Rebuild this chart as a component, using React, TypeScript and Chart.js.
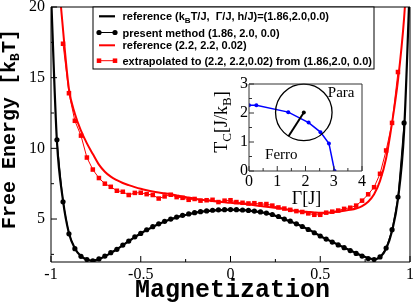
import React, { useEffect, useRef } from 'react';
import { Chart, registerables } from 'chart.js';

Chart.register(...registerables);

const W = 415;
const H = 303;

// ---------- main plot data ----------
const M_GRID = [
  -1, -0.967, -0.933, -0.9, -0.867, -0.833, -0.8, -0.767, -0.733, -0.7,
  -0.667, -0.633, -0.6, -0.567, -0.533, -0.5, -0.467, -0.433, -0.4, -0.367,
  -0.333, -0.3, -0.267, -0.233, -0.2, -0.167, -0.133, -0.1, -0.067, -0.033,
  0, 0.033, 0.067, 0.1, 0.133, 0.167, 0.2, 0.233, 0.267, 0.3,
  0.333, 0.367, 0.4, 0.433, 0.467, 0.5, 0.533, 0.567, 0.6, 0.633,
  0.667, 0.7, 0.733, 0.767, 0.8, 0.833, 0.867, 0.9, 0.933, 0.967, 1,
];

const REF_BLACK = [
  21, 10.5, 6.3, 4.0, 2.92, 2.38, 2.14, 2.05, 2.16, 2.36,
  2.6, 2.86, 3.14, 3.43, 3.72, 3.98, 4.22, 4.44, 4.64, 4.82,
  4.98, 5.12, 5.24, 5.34, 5.43, 5.5, 5.56, 5.6, 5.63, 5.65,
  5.66, 5.65, 5.63, 5.6, 5.55, 5.49, 5.41, 5.31, 5.15, 4.98,
  4.83, 4.66, 4.47, 4.27, 4.04, 3.8, 3.58, 3.38, 3.18, 2.98,
  2.78, 2.58, 2.4, 2.24, 2.15, 2.3, 2.9, 4.15, 6.4, 11.2, 22,
];

// present method, on M_GRID[1..59]
const PRESENT = [
  10.6, 6.22, 3.95, 2.9, 2.36, 2.13, 2.04, 2.18, 2.38,
  2.62, 2.86, 3.16, 3.44, 3.74, 3.98, 4.24, 4.46, 4.66, 4.84,
  5.0, 5.14, 5.26, 5.36, 5.45, 5.52, 5.57, 5.62, 5.65, 5.66,
  5.67, 5.66, 5.64, 5.61, 5.56, 5.5, 5.42, 5.32, 5.18, 5.0,
  4.85, 4.66, 4.47, 4.26, 4.03, 3.8, 3.58, 3.37, 3.17, 2.97,
  2.77, 2.57, 2.38, 2.2, 2.13, 2.32, 2.95, 4.25, 6.55, 11.8,
];

const REF_RED = [
  34, 24, 18.4, 14.2, 12.45, 11.25, 10.35, 9.6, 8.85, 8.35,
  8.0, 7.75, 7.55, 7.4, 7.26, 7.14, 7.04, 6.95, 6.88, 6.82,
  6.75, 6.67, 6.59, 6.52, 6.45, 6.38, 6.32, 6.27, 6.22, 6.18,
  6.15, 6.12, 6.08, 6.03, 5.97, 5.92, 5.87, 5.82, 5.76, 5.7,
  5.64, 5.58, 5.53, 5.5, 5.47, 5.45, 5.45, 5.47, 5.52, 5.58,
  5.65, 5.75, 5.92, 6.22, 6.75, 7.7, 9.3, 11.8, 14.8, 19.2, 26,
];

// extrapolated, on M_GRID[2..58]
const EXTRAP = [
  17.4, 13.9, 11.95, 10.9, 9.35, 8.5, 7.9, 7.5,
  7.28, 7.0, 6.93, 6.7, 6.85, 6.86, 6.76, 6.7, 6.45, 6.6,
  6.72, 6.55, 6.5, 6.36, 6.42, 6.3, 6.33, 6.36, 6.2, 6.3,
  6.33, 6.2, 6.15, 6.1, 6.12, 6.05, 6.06, 5.95, 5.82, 5.74,
  5.65, 5.56, 5.5, 5.4, 5.3, 5.3, 5.45, 5.52, 5.6, 5.72,
  5.8, 5.95, 6.3, 6.75, 7.25, 8.2, 9.85, 11.8, 15.4,
];

const X_TICKS = [-1, -0.5, 0, 0.5, 1];
const X_MINOR = [-0.75, -0.25, 0.25, 0.75];
const Y_TICKS = [5, 10, 15, 20];
const Y_MINOR = [2.5, 7.5, 12.5, 17.5];
const X_RANGE = [-1, 1];
const Y_RANGE = [1.96, 20];

const SERIES_LABELS = [
  'reference (kBT/J,  Γ/J, h/J)=(1.86,2.0,0.0)',
  'present method (1.86, 2.0, 0.0)',
  'reference (2.2, 2.2, 0.02)',
  'extrapolated to (2.2, 2.2,0.02) from (1.86,2.0, 0.0)',
];

// ---------- inset data ----------
const INSET_GAMMA = [0, 0.26, 1.39, 2.11, 2.53, 2.83, 3.03];
const INSET_TC = [2.269, 2.265, 2.03, 1.67, 1.34, 0.95, 0];
const INSET_X_TICKS = [0, 1, 2, 3, 4];
const INSET_X_MINOR = [0.5, 1.5, 2.5, 3.5];
const INSET_Y_TICKS = [0, 1, 2, 3];
const INSET_Y_MINOR = [0.5, 1.5, 2.5];
const CIRCLE_CENTER = { x: 1.94, y: 2.02 };
const CIRCLE_RADIUS = 1.0;
const RADIUS_END = { x: 1.4, y: 1.2 };
const PARA_POS = { x: 2.79, y: 2.55 };
const FERRO_POS = { x: 0.57, y: 0.41 };

type Part = { t: string; sub?: boolean };

function richWidth(ctx: CanvasRenderingContext2D, parts: Part[], font: string, subFont: string) {
  let w = 0;
  for (const p of parts) {
    ctx.font = p.sub ? subFont : font;
    w += ctx.measureText(p.t).width;
  }
  return w;
}

function drawRich(
  ctx: CanvasRenderingContext2D,
  parts: Part[],
  x: number,
  y: number,
  font: string,
  subFont: string,
  subDy: number
) {
  let cx = x;
  ctx.textBaseline = 'alphabetic';
  ctx.textAlign = 'left';
  for (const p of parts) {
    ctx.font = p.sub ? subFont : font;
    ctx.fillText(p.t, cx, p.sub ? y + subDy : y);
    cx += ctx.measureText(p.t).width;
  }
}

function drawFrame(
  chart: any,
  xMajor: number[],
  xMinor: number[],
  yMajor: number[],
  yMinor: number[],
  majorLen: number,
  minorLen: number,
  color: string
) {
  const ctx: CanvasRenderingContext2D = chart.ctx;
  const a = chart.chartArea;
  const xs = chart.scales.x;
  const ys = chart.scales.y;
  ctx.save();
  ctx.strokeStyle = color;
  ctx.lineWidth = 1;
  ctx.beginPath();
  ctx.rect(a.left, a.top, a.right - a.left, a.bottom - a.top);
  const xt = (vals: number[], len: number) => {
    for (const v of vals) {
      const p = xs.getPixelForValue(v);
      ctx.moveTo(p, a.bottom);
      ctx.lineTo(p, a.bottom - len);
    }
  };
  const yt = (vals: number[], len: number) => {
    for (const v of vals) {
      const p = ys.getPixelForValue(v);
      ctx.moveTo(a.left, p);
      ctx.lineTo(a.left + len, p);
    }
  };
  xt(xMajor, majorLen);
  xt(xMinor, minorLen);
  yt(yMajor, majorLen);
  yt(yMinor, minorLen);
  ctx.stroke();
  ctx.restore();
}

const MONO = '"Liberation Mono", "DejaVu Sans Mono", monospace';
const SERIF = '"Liberation Serif", "DejaVu Serif", serif';
const SANS = '"Liberation Sans", Arial, sans-serif';

const LEGEND_PARTS: Part[][] = [
  [{ t: 'reference (k' }, { t: 'B', sub: true }, { t: 'T/J,  Γ/J, h/J)=(1.86,2.0,0.0)' }],
  [{ t: SERIES_LABELS[1] }],
  [{ t: SERIES_LABELS[2] }],
  [{ t: SERIES_LABELS[3] }],
];

const mainDecor = {
  id: 'mainDecor',
  afterDatasetsDraw(chart: any) {
    drawFrame(chart, X_TICKS, X_MINOR, Y_TICKS, Y_MINOR, 6, 3, '#000');
  },
  afterDraw(chart: any) {
    const ctx: CanvasRenderingContext2D = chart.ctx;
    const a = chart.chartArea;
    ctx.save();
    ctx.fillStyle = '#000';
    // x title
    ctx.font = `bold 25px ${MONO}`;
    ctx.textAlign = 'center';
    ctx.textBaseline = 'alphabetic';
    ctx.fillText('Magnetization', (a.left + a.right) / 2 + 2, a.bottom + 35);
    // y title
    const yParts: Part[] = [{ t: 'Free Energy [k' }, { t: 'B', sub: true }, { t: 'T]' }];
    const f = `bold 20px ${MONO}`;
    const sf = `bold 13px ${MONO}`;
    const wY = richWidth(ctx, yParts, f, sf);
    ctx.translate(15, (a.top + a.bottom) / 2 - 5.5);
    ctx.rotate(-Math.PI / 2);
    drawRich(ctx, yParts, -wY / 2, 0, f, sf, 4);
    ctx.restore();

    // legend box
    ctx.save();
    const bx = 93, by = a.top, bw = 281, bh = 62;
    ctx.fillStyle = '#fff';
    ctx.fillRect(bx, by, bw, bh);
    ctx.strokeStyle = '#000';
    ctx.lineWidth = 1;
    ctx.strokeRect(bx, by, bw, bh);
    const rows = [16.3, 32.5, 45.3, 60.7];
    const ds = chart.data.datasets;
    const lf = `bold 11px ${SANS}`;
    const lsf = `bold 8px ${SANS}`;
    for (let i = 0; i < 4; i++) {
      const d = ds[i];
      const yy = rows[i];
      ctx.strokeStyle = d.borderColor;
      ctx.lineWidth = d.borderWidth;
      ctx.beginPath();
      ctx.moveTo(99, yy);
      ctx.lineTo(115, yy);
      ctx.stroke();
      if (d.pointRadius > 0) {
        ctx.fillStyle = d.pointBackgroundColor;
        for (const px of [99, 115]) {
          if (d.pointStyle === 'rect') {
            const s = d.pointRadius * Math.SQRT1_2;
            ctx.fillRect(px - s, yy - s, 2 * s, 2 * s);
          } else {
            ctx.beginPath();
            ctx.arc(px, yy, d.pointRadius, 0, Math.PI * 2);
            ctx.fill();
          }
        }
      }
      ctx.fillStyle = '#000';
      drawRich(ctx, LEGEND_PARTS[i], 122.5, yy + 4, lf, lsf, 3);
    }
    ctx.restore();
  },
};

const insetDecor = {
  id: 'insetDecor',
  afterDatasetsDraw(chart: any) {
    const ctx: CanvasRenderingContext2D = chart.ctx;
    const xs = chart.scales.x;
    const ys = chart.scales.y;
    const a = chart.chartArea;
    // circle
    const cx = xs.getPixelForValue(CIRCLE_CENTER.x);
    const cy = ys.getPixelForValue(CIRCLE_CENTER.y);
    const r = Math.abs(xs.getPixelForValue(CIRCLE_CENTER.x + CIRCLE_RADIUS) - cx);
    ctx.save();
    ctx.strokeStyle = '#000';
    ctx.lineWidth = 1.3;
    ctx.beginPath();
    ctx.arc(cx, cy, r, 0, Math.PI * 2);
    ctx.stroke();
    ctx.restore();
    drawFrame(chart, INSET_X_TICKS, INSET_X_MINOR, INSET_Y_TICKS, INSET_Y_MINOR, 5, 3, '#333');
    ctx.save();
    ctx.fillStyle = '#000';
    ctx.font = `15px ${SERIF}`;
    ctx.textAlign = 'left';
    ctx.textBaseline = 'alphabetic';
    ctx.fillText('Para', xs.getPixelForValue(PARA_POS.x), ys.getPixelForValue(PARA_POS.y));
    ctx.fillText('Ferro', xs.getPixelForValue(FERRO_POS.x), ys.getPixelForValue(FERRO_POS.y));
    // x title
    ctx.font = `18px ${SERIF}`;
    ctx.textAlign = 'center';
    ctx.fillText('Γ[J]', (a.left + a.right) / 2 + 1, a.bottom + 33);
    // y title
    const parts: Part[] = [{ t: 'T' }, { t: 'C', sub: true }, { t: '[J/k' }, { t: 'B', sub: true }, { t: ']' }];
    const f = `18px ${SERIF}`;
    const sf = `13px ${SERIF}`;
    const w = richWidth(ctx, parts, f, sf);
    ctx.translate(27, (a.top + a.bottom) / 2 - 5.5);
    ctx.rotate(-Math.PI / 2);
    drawRich(ctx, parts, -w / 2, 0, f, sf, 4);
    ctx.restore();
  },
};

function fixTicks(values: number[]) {
  return (scale: any) => {
    scale.ticks = values.map((v) => ({ value: v }));
  };
}

function fitSize(prop: 'width' | 'height', size: number) {
  return (scale: any) => {
    scale[prop] = size;
    scale.paddingTop = 0;
    scale.paddingBottom = 0;
    scale.paddingLeft = 0;
    scale.paddingRight = 0;
  };
}

const pts = (xs: number[], ys: number[]) => ys.map((y, i) => ({ x: xs[i], y }));

export default function App() {
  const mainRef = useRef<HTMLCanvasElement>(null);
  const insetRef = useRef<HTMLCanvasElement>(null);

  useEffect(() => {
    const main = new Chart(mainRef.current as HTMLCanvasElement, {
      type: 'line',
      data: {
        datasets: [
          {
            label: SERIES_LABELS[0],
            data: pts(M_GRID, REF_BLACK),
            borderColor: '#000',
            backgroundColor: '#000',
            borderWidth: 2.2,
            pointRadius: 0,
            cubicInterpolationMode: 'monotone',
            order: 2,
          },
          {
            label: SERIES_LABELS[1],
            data: pts(M_GRID.slice(1, 60), PRESENT),
            borderColor: '#000',
            backgroundColor: '#000',
            pointBackgroundColor: '#000',
            pointBorderWidth: 0,
            borderWidth: 1,
            pointRadius: 2.6,
            pointStyle: 'circle',
            order: 0,
          },
          {
            label: SERIES_LABELS[2],
            data: pts(M_GRID, REF_RED),
            borderColor: '#ff0000',
            backgroundColor: '#ff0000',
            borderWidth: 2,
            pointRadius: 0,
            cubicInterpolationMode: 'monotone',
            order: 3,
          },
          {
            label: SERIES_LABELS[3],
            data: pts(M_GRID.slice(2, 59), EXTRAP),
            borderColor: '#ff0000',
            backgroundColor: '#ff0000',
            pointBackgroundColor: '#ff0000',
            pointBorderWidth: 0,
            borderWidth: 1,
            pointRadius: 3.2,
            pointStyle: 'rect',
            order: 1,
          },
        ] as any,
      },
      options: {
        animation: false,
        responsive: false,
        maintainAspectRatio: false,
        layout: { padding: { top: 7, right: 5, left: 0, bottom: 0 } },
        plugins: { legend: { display: false }, tooltip: { enabled: false } },
        events: [],
        scales: {
          x: {
            type: 'linear',
            min: X_RANGE[0],
            max: X_RANGE[1],
            grid: { display: false, drawTicks: false },
            border: { display: false },
            ticks: {
              color: '#000',
              font: { family: SERIF, size: 16 },
              padding: 3,
              maxRotation: 0,
              callback: (v: any) => String(v),
            },
            afterBuildTicks: fixTicks(X_TICKS),
            afterFit: fitSize('height', 41),
          },
          y: {
            type: 'linear',
            min: Y_RANGE[0],
            max: Y_RANGE[1],
            grid: { display: false, drawTicks: false },
            border: { display: false },
            ticks: {
              color: '#000',
              font: { family: SERIF, size: 16 },
              padding: 6,
              callback: (v: any) => String(v),
            },
            afterBuildTicks: fixTicks(Y_TICKS),
            afterFit: fitSize('width', 51),
          },
        },
      } as any,
      plugins: [mainDecor],
    });

    const inset = new Chart(insetRef.current as HTMLCanvasElement, {
      type: 'line',
      data: {
        datasets: [
          {
            label: 'Tc',
            data: pts(INSET_GAMMA, INSET_TC),
            borderColor: '#0000ff',
            backgroundColor: '#0000ff',
            pointBackgroundColor: '#0000ff',
            pointBorderWidth: 0,
            borderWidth: 1.5,
            pointRadius: 2,
            order: 1,
          },
          {
            label: 'radius',
            data: [CIRCLE_CENTER, RADIUS_END],
            borderColor: '#000',
            backgroundColor: '#000',
            pointBackgroundColor: '#000',
            pointBorderWidth: 0,
            borderWidth: 2,
            pointRadius: [2, 0],
            order: 0,
          },
        ] as any,
      },
      options: {
        animation: false,
        responsive: false,
        maintainAspectRatio: false,
        layout: { padding: { top: 14, right: 8, left: 0, bottom: 0 } },
        plugins: { legend: { display: false }, tooltip: { enabled: false } },
        events: [],
        scales: {
          x: {
            type: 'linear',
            min: 0,
            max: 4,
            grid: { display: false, drawTicks: false },
            border: { display: false },
            ticks: {
              color: '#000',
              font: { family: SERIF, size: 16 },
              padding: 1,
              maxRotation: 0,
              callback: (v: any) => String(v),
            },
            afterBuildTicks: fixTicks(INSET_X_TICKS),
            afterFit: fitSize('height', 44),
          },
          y: {
            type: 'linear',
            min: 0,
            max: 3,
            grid: { display: false, drawTicks: false },
            border: { display: false },
            ticks: {
              color: '#000',
              font: { family: SERIF, size: 16 },
              padding: 1,
              callback: (v: any) => String(v),
            },
            afterBuildTicks: fixTicks(INSET_Y_TICKS),
            afterFit: fitSize('width', 49),
          },
        },
      } as any,
      plugins: [insetDecor],
    });

    return () => {
      main.destroy();
      inset.destroy();
    };
  }, []);

  return (
    <div style={{ position: 'absolute', left: 0, top: 0, width: W, height: H, background: '#fff' }}>
      <canvas
        ref={mainRef}
        width={W}
        height={H}
        style={{ position: 'absolute', left: 0, top: 0, width: W, height: H }}
      />
      <canvas
        ref={insetRef}
        width={170}
        height={145}
        style={{ position: 'absolute', left: 200, top: 70, width: 170, height: 145 }}
      />
    </div>
  );
}
